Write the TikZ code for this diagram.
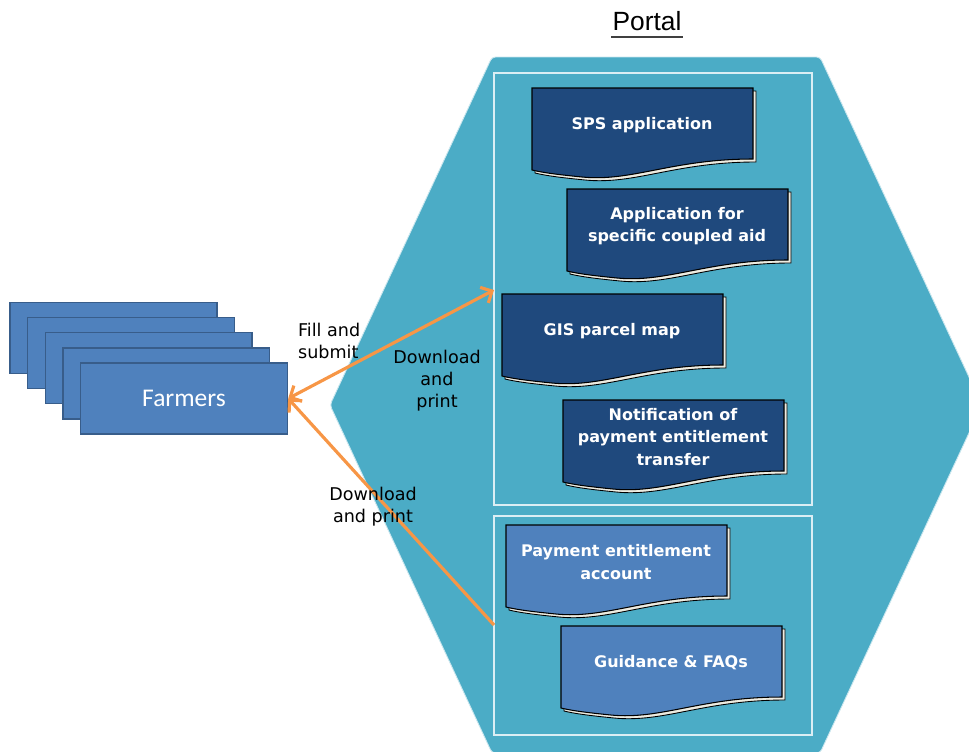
\documentclass[tikz,border=0pt]{standalone}
\usepackage{fontspec}
\setmainfont{DejaVu Sans}
\newfontfamily\farmfont{Carlito}
\newfontfamily\titlefont{Liberation Sans}
\usetikzlibrary{arrows.meta, positioning}

\definecolor{portalblue}{HTML}{4BACC6}
\definecolor{docdark}{HTML}{1F497D}
\definecolor{doclight}{HTML}{4F81BD}
\definecolor{farmedge}{HTML}{385D8A}
\definecolor{linkorange}{HTML}{F79646}
\definecolor{shadowcream}{HTML}{EEECE1}

\tikzset{
  farmer/.style={draw=farmedge, fill=doclight, line width=0.8pt,
    minimum width=4.14cm, minimum height=1.42cm, inner sep=0pt},
  doctext/.style={text=white, font=\bfseries\fontsize{9.1}{12.7}\selectfont, align=center},
  note/.style={font=\fontsize{10}{12.5}\selectfont, align=center, inner sep=1pt},
  frame/.style={draw=white!80!portalblue, line width=0.7pt},
  link/.style={draw=linkorange, line width=1.8pt,
    >={Straight Barb[length=5pt,width=10pt,line width=1.8pt]}},
}

% document shape with wavy bottom, top left corner at (#1,#2)
\newcommand{\docshape}[3]{%
  \begin{scope}[shift={(#1,#2)}]
    \filldraw[fill=shadowcream, draw=black, line width=0.5pt, shift={(3,3)}]
      (0,82) -- (0,0) -- (221,0) -- (221,71)
      .. controls (140,71) and (100,94) .. (50,89)
      .. controls (30,87) and (12,85) .. (0,82) -- cycle;
    \filldraw[fill=#3, draw=black, line width=0.6pt]
      (0,82) -- (0,0) -- (221,0) -- (221,71)
      .. controls (140,71) and (100,94) .. (50,89)
      .. controls (30,87) and (12,85) .. (0,82) -- cycle;
  \end{scope}}

\begin{document}
\begin{tikzpicture}[x=0.02cm, y=-0.02cm]
  \useasboundingbox (0,0) rectangle (969,751);
  \clip (0,0) rectangle (969,751);

  % portal
  \filldraw[fill=portalblue, draw=white!70!portalblue, line width=0.5pt, rounded corners=2pt]
    (492,57) -- (820,57) -- (982,405) -- (820,753) -- (492,753) -- (330,405) -- cycle;
  \draw[frame] (494,73) rectangle (812,505);
  \draw[frame] (494,516) rectangle (812,735);

  \node[font=\titlefont\fontsize{15}{18}\selectfont, inner xsep=0.5pt, inner ysep=3.6pt] (portal) at (647,21) {Portal};
  \draw[line width=1.1pt, black!75] (portal.south west) -- (portal.south east);

  \foreach \name/\x/\y/\col/\txt in {
      sps/532/88/docdark/{SPS application},
      coupled/567/189/docdark/{Application for\\specific coupled aid},
      gis/502/294/docdark/{GIS parcel map},
      notif/563/400/docdark/{Notification of\\payment entitlement\\transfer},
      account/506/525/doclight/{Payment entitlement\\account},
      guide/561/626/doclight/{Guidance \& FAQs}} {
    \docshape{\x}{\y}{\col}
    \node[doctext] (\name) at (\x+110,\y+37) {\txt};
  }

  % farmers
  \foreach \i in {0,...,3}
    \node[farmer] (farm\i) at ({113.5+17.6*\i},{338+15.1*\i}) {};
  \node[farmer, text=white, font=\farmfont\fontsize{14.5}{17}\selectfont] (farmers) at (184,398.5) {Farmers};

  \coordinate (gisin) at (494,290);
  \coordinate (guideout) at (494,625);

  \draw[link, <->] (farmers.east) -- (gisin);
  \draw[link, <-] (farmers.east) -- (guideout);

  \node[note, align=left, anchor=west] (fill) at (296,341) {Fill and\\submit};
  \node[note] (dlone) at (437,381) {Download\\and\\print};
  \node[note] (dltwo) at (373,507) {Download\\and print};
\end{tikzpicture}
\end{document}
